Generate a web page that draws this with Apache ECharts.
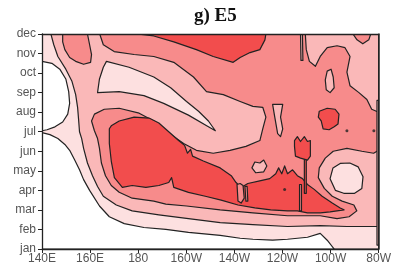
<!DOCTYPE html>
<html><head><meta charset="utf-8">
<script src="https://cdn.jsdelivr.net/npm/echarts@6/dist/echarts.min.js"></script>
<style>html,body{margin:0;padding:0;background:#fff}#c{width:394px;height:265px}</style>
</head><body><div id="c"></div>
<script>
// tick labels
const months = ['jan','feb','mar','apr','may','jun','jul','aug','sep','oct','nov','dec'];
const lonTicks = [140,160,180,200,220,240,260,280];
const lonLabels = ['140E','160E','180','160W','140W','120W','100W','80W'];
// contour level colours (lowest -> highest)
const levelColors = ['#ffffff','#fde0e0','#fab8b8','#f78b8b','#f24d4d'];

// contour regions, points are [longitude (deg E), month index (jan=0)]
const base_L3 = [[140,0],[280,0],[280,11],[140,11]];
const L2_main = [[140,11],[164,11],[165.5,10.45],[170,10.1],[178.3,9.95],[186.5,9.85],[194.8,9.55],[203,8.8],[208.4,8.05],[215.4,7.9],[222.4,7.55],[227.7,7.3],[231.8,7.25],[233.1,6.75],[231.8,6.15],[230.6,5.55],[224.8,5.25],[218.2,5.05],[211.2,4.9],[204.2,5.05],[198.9,5.4],[191.9,6.0],[186.5,6.55],[180.4,6.95],[172.1,7.2],[165.9,7.15],[161.8,6.9],[160.6,6.55],[161.8,6.05],[163.1,5.65],[163.9,5.15],[164.7,4.4],[166.4,3.75],[168.8,3.25],[172.1,2.9],[177.5,2.6],[186.5,2.45],[191.5,2.3],[200.1,2.2],[214.1,2.0],[227.7,1.85],[242.1,1.7],[255.7,1.7],[262.7,1.55],[267.7,1.65],[270.9,1.95],[269.7,2.25],[264.8,2.45],[260.7,2.7],[257.4,3.1],[254.9,3.65],[255.3,4.15],[257.8,4.65],[261.1,5.0],[266.8,5.15],[273,5.0],[277.9,4.9],[280,5.05],[280,0],[140,0]];
const L2_upperRight = [[249.5,11],[249.9,10.2],[251.2,9.6],[253.7,9.35],[255.7,9.85],[258.6,10.3],[262.7,10.4],[266,10.3],[268.1,9.85],[266.8,9.05],[268.1,8.35],[271.8,8.0],[275.1,7.65],[277.1,7.15],[280,7.0],[280,11]];
const L3_notch = [[269.3,11],[271,10.7],[273.4,10.5],[275.9,10.7],[276.7,11]];
const L2_ellipse = [[258.6,9.1],[260.2,9.2],[261.1,8.8],[261.5,8.25],[259.8,8.0],[258.2,8.15],[257.8,8.65]];
const L2_island = [[227.3,4.15],[228.5,4.45],[230.6,4.4],[232.2,4.55],[233.5,4.25],[232.2,3.95],[228.9,3.9]];
const L2_sliverA = [[235.9,7.4],[236.8,6.75],[238,5.9],[239.2,5.75],[240.1,6.15],[239.2,6.75],[240.1,7.4]];
const L2_sliverTop = [[247.5,11],[248.3,11],[248.5,9.65],[247.7,9.65]];
const L3_edge = [[279.3,7.6],[280,7.6],[280,0.2],[279.3,0.2]];
const L1_main = [[140,11],[143.7,11],[144.9,10.45],[146.6,9.85],[149.9,9.2],[152.4,8.6],[154,7.9],[154.8,7.25],[155.2,6.65],[155.6,6.0],[156.5,5.65],[157.3,5.15],[158.9,4.4],[161,3.75],[163.1,3.2],[165.5,2.7],[170.9,2.25],[177.5,1.95],[188.6,1.75],[200.9,1.55],[214.1,1.35],[227.7,1.25],[242.1,1.15],[255.7,1.2],[266.8,1.15],[280,1.15],[280,0],[140,0]];
const L1_tongue = [[166.8,9.6],[176.2,9.3],[186.5,8.8],[193.5,8.25],[200.1,7.55],[205.1,7.05],[209.2,6.55],[212.1,6.05],[209.2,6.25],[200.9,6.85],[190.6,7.45],[182.4,7.85],[172.1,8.05],[163.1,8.0],[163.9,8.7],[165.5,9.3]];
const L1_ellipse = [[259.8,3.6],[261,4.15],[264,4.38],[268,4.4],[271.5,4.2],[273.5,3.7],[273,3.1],[270,2.85],[265.5,2.85],[262,3.0]];
const L0_upper = [[140,9.6],[144.1,9.5],[147.4,9.2],[149.9,8.7],[151.1,8.05],[151.5,7.45],[150.7,6.9],[148.6,6.5],[145.4,6.25],[142.1,6.1],[140,6.05]];
const L0_lower = [[140,5.95],[143.3,5.85],[146.6,5.65],[149.5,5.35],[151.5,5.05],[153.6,4.55],[155.6,4.05],[157.3,3.55],[159.8,3.0],[163.9,2.2],[168,1.65],[174.2,1.3],[182.4,1.1],[191.5,1.0],[200.9,0.85],[214.1,0.7],[222.4,0.55],[227.7,0.5],[235.9,0.45],[242.1,0.5],[250.4,0.6],[255.7,0.8],[258.6,0.45],[261.5,0],[140,0]];
const L3_novBlob = [[148.6,10.95],[148.8,11],[158.9,11],[159.8,10.45],[160.6,9.95],[160.2,9.55],[157.3,9.45],[154,9.6],[151.5,9.8],[149.5,10.2],[148.6,10.6]];
const L4_topBand = [[179.5,11],[186.5,10.9],[194.8,10.6],[204.2,10.2],[211.2,9.85],[219.5,9.55],[222.4,9.8],[226.5,10.05],[230.6,10.2],[232.7,10.7],[233.1,11]];
const L4_tongue = [[168.8,6.3],[172.1,6.55],[178.3,6.75],[184.5,6.7],[188.6,6.45],[192.7,6.0],[196.8,5.55],[199.3,5.3],[200.5,4.9],[201.8,5.1],[202.6,4.75],[207.1,4.5],[214.1,4.15],[218.7,3.75],[220.7,3.4],[222.8,3.15],[225.6,3.35],[231,3.5],[234.7,3.6],[237.2,3.85],[238.4,4.15],[239.7,3.85],[240.9,4.25],[242.1,3.85],[244.2,4.05],[246.2,3.75],[248.3,3.6],[250.4,3.3],[253.2,3.05],[256.5,2.7],[260.7,2.35],[264,2.1],[265.6,2.0],[259.8,1.9],[255.7,1.85],[250.4,1.85],[246.2,1.95],[242.1,1.95],[235.1,2.0],[228.5,2.1],[221.5,2.25],[214.5,2.5],[207.9,2.7],[200.9,2.9],[194.8,3.15],[193.9,3.65],[192.7,3.4],[188.6,3.25],[183.2,3.15],[177.5,3.25],[173.4,3.15],[170.1,3.65],[168.8,4.5],[168,5.4],[168,6.15]];
const L3_gapA = [[221.1,3.3],[222.4,3.35],[223.6,3.25],[224.1,2.6],[222.8,2.35],[221.5,2.45]];
const L3_gapB = [[224.4,3.2],[225.3,3.2],[225.6,2.45],[224.8,2.45]];
const L3_gapC = [[247.1,3.3],[247.9,3.3],[247.9,1.95],[247.1,1.95]];
const L4_stem = [[249.1,4.75],[249.9,4.75],[249.9,2.85],[249.1,2.85]];
const L4_axe = [[245,5.55],[246.2,5.75],[247.5,5.5],[249.1,5.75],[250.4,5.5],[251.6,5.55],[251.6,4.75],[250.4,4.55],[247.5,4.65],[245.4,4.75],[245,5.25]];
const L4_blob = [[255.3,7.05],[258.6,7.2],[261.9,7.15],[263.5,6.9],[263.1,6.4],[261.5,6.25],[259.4,6.1],[256.9,6.15],[256.1,6.55],[254.9,6.75]];
const dots = [[266.8,6.05],[278,6.05],[240.9,3.05]];

const regions = [
  {lev:3, pts:base_L3},
  {lev:2, pts:L2_main},
  {lev:2, pts:L2_upperRight},
  {lev:3, pts:L3_notch},
  {lev:2, pts:L2_ellipse},
  {lev:2, pts:L2_island},
  {lev:2, pts:L2_sliverA},
  {lev:2, pts:L2_sliverTop},
  {lev:1, pts:L1_main},
  {lev:1, pts:L1_tongue},
  {lev:1, pts:L1_ellipse},
  {lev:0, pts:L0_upper},
  {lev:0, pts:L0_lower},
  {lev:3, pts:L3_novBlob},
  {lev:4, pts:L4_topBand},
  {lev:4, pts:L4_tongue},
  {lev:3, pts:L3_gapA},
  {lev:3, pts:L3_gapB},
  {lev:3, pts:L3_gapC},
  {lev:4, pts:L4_stem},
  {lev:4, pts:L4_axe},
  {lev:4, pts:L4_blob},
  {lev:2, pts:L3_edge}
];

const chart = echarts.init(document.getElementById('c'), null, {renderer:'canvas'});
const axisCol = '#222';
const lblStyle = {fontSize:12, color:'#555', fontFamily:'Liberation Sans, Arial, sans-serif'};
chart.setOption({
  animation:false,
  title:{text:'g) E5', left:189, top:2, textStyle:{fontFamily:'Liberation Serif, serif', fontWeight:'bold', fontSize:19, color:'#111'}},
  grid:{left:42, right:12, top:34, bottom:10},
  xAxis:[
    {type:'value', min:140, max:280, interval:20, position:'bottom', z:10,
     axisLine:{show:true, onZero:false, lineStyle:{color:axisCol, width:1.3}},
     axisTick:{show:true, length:4, lineStyle:{color:axisCol}},
     axisLabel:Object.assign({margin:4, formatter:v=>lonLabels[lonTicks.indexOf(v)]}, lblStyle),
     splitLine:{show:false}},
    {type:'value', min:140, max:280, position:'top', z:10,
     axisLine:{show:true, onZero:false, lineStyle:{color:axisCol, width:1.3}},
     axisTick:{show:false}, axisLabel:{show:false}, splitLine:{show:false}}
  ],
  yAxis:[
    {type:'value', min:0, max:11, interval:1, position:'left', z:10,
     axisLine:{show:true, onZero:false, lineStyle:{color:axisCol, width:1.3}},
     axisTick:{show:true, length:4, lineStyle:{color:axisCol}},
     axisLabel:Object.assign({margin:6, formatter:v=>months[v]}, lblStyle),
     splitLine:{show:false}},
    {type:'value', min:0, max:11, position:'right', z:10,
     axisLine:{show:true, onZero:false, lineStyle:{color:axisCol, width:1.5}},
     axisTick:{show:false}, axisLabel:{show:false}, splitLine:{show:false}}
  ],
  series:[
    {type:'custom', clip:true, xAxisIndex:0, yAxisIndex:0,
     data: regions.map((r,i)=>[r.pts[0][0], r.pts[0][1], i]),
     encode:{x:0, y:1},
     renderItem:function(params, api){
       const r = regions[params.dataIndex];
       const pts = r.pts.map(p=>api.coord(p));
       return {type:'polygon', shape:{points:pts},
               style:{fill:levelColors[r.lev], stroke:'#222', lineWidth:1.2, lineJoin:'round'}};
     }},
    {type:'scatter', xAxisIndex:0, yAxisIndex:0, data:dots, symbolSize:3,
     itemStyle:{color:'#222'}, silent:true}
  ]
});
</script></body></html>
